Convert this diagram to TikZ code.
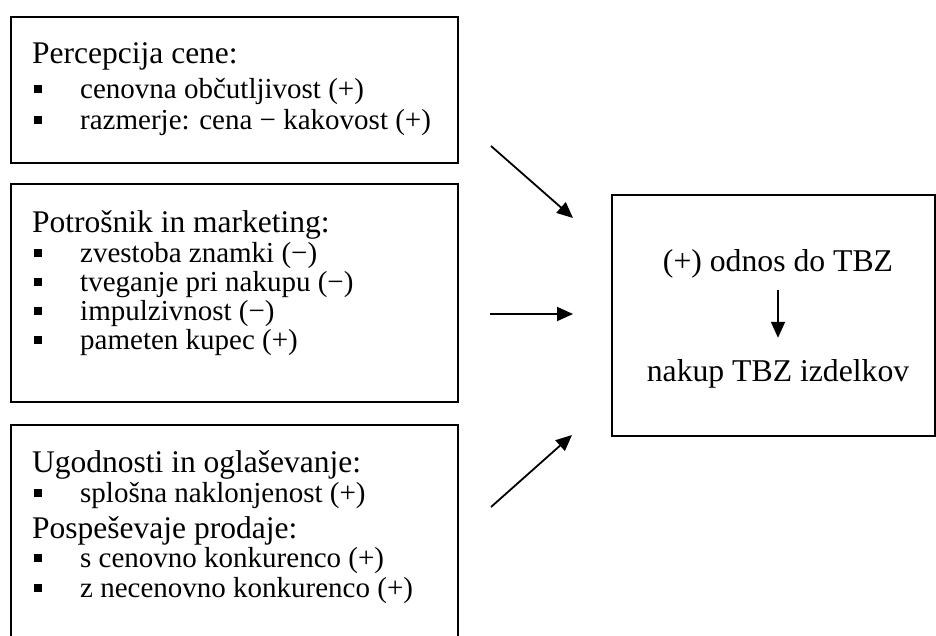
\documentclass[tikz,border=0pt]{standalone}
\usepackage{fontspec}
\setmainfont{Liberation Serif}
\usetikzlibrary{arrows.meta}
\newcommand\mybul{\makebox[47pt][l]{\hspace{1pt}\raisebox{5pt}{\rule{8pt}{8pt}}}}
\begin{document}
\begin{tikzpicture}[x=1pt,y=-1pt,
  box/.style={draw, line width=1.8pt, inner sep=0pt, anchor=north west},
  txt/.style={anchor=base west, inner sep=0pt, font=\fontsize{29}{34}\selectfont},
  htxt/.style={anchor=base west, inner sep=0pt, font=\fontsize{31.5}{36}\selectfont},
  ctxt/.style={anchor=base, inner sep=0pt, text height=22pt, text depth=7pt, font=\fontsize{31.7}{38}\selectfont},
  arr/.style={line width=1.8pt, -{Triangle[length=16pt,width=14pt]}}]
\useasboundingbox (0,0) rectangle (936,635);
\clip (0,0) rectangle (936,635);
% left boxes
\node[box, minimum width=447pt, minimum height=146pt] (b1) at (10,16) {};
\node[box, minimum width=447pt, minimum height=218pt] (b2) at (10,183) {};
\node[box, minimum width=447pt, minimum height=240pt] (b3) at (10,424) {};
% right box
\node[box, minimum width=323pt, minimum height=241pt] (r) at (611,194) {};
% box 1 text
\node[htxt] (h1) at (32,63) {Percepcija cene:};
\node[txt] (i11) at (33,98) {\mybul cenovna občutljivost (+)};
\node[txt] (i12) at (33,129) {\mybul razmerje: cena − kakovost (+)};
% box 2 text
\node[htxt] (h2) at (32,232) {Potrošnik in marketing:};
\node[txt] (i21) at (33,262) {\mybul zvestoba znamki (−)};
\node[txt] (i22) at (33,291) {\mybul tveganje pri nakupu (−)};
\node[txt] (i23) at (33,320) {\mybul impulzivnost (−)};
\node[txt] (i24) at (33,349) {\mybul pameten kupec (+)};
% box 3 text
\node[htxt] (h3) at (32,472) {Ugodnosti in oglaševanje:};
\node[txt] (i31) at (33,502) {\mybul splošna naklonjenost (+)};
\node[htxt] (h4) at (32,538) {Pospeševaje prodaje:};
\node[txt] (i41) at (33,567) {\mybul s cenovno konkurenco (+)};
\node[txt] (i42) at (33,597) {\mybul z necenovno konkurenco (+)};
% right box text
\node[ctxt] (t1) at (778,271) {(+) odnos do TBZ};
\node[ctxt] (t2) at (778,381) {nakup TBZ izdelkov};
\draw[arr, shorten <=12pt, shorten >=21pt] (t1.south) -- (t2.north);
% arrows
\coordinate (a1s) at (491,146); \coordinate (a1e) at (573,218);
\coordinate (a2s) at (490,314); \coordinate (a2e) at (573,314);
\coordinate (a3s) at (491,507); \coordinate (a3e) at (572,435);
\draw[arr] (a1s) -- (a1e);
\draw[arr] (a2s) -- (a2e);
\draw[arr] (a3s) -- (a3e);
\end{tikzpicture}
\end{document}
